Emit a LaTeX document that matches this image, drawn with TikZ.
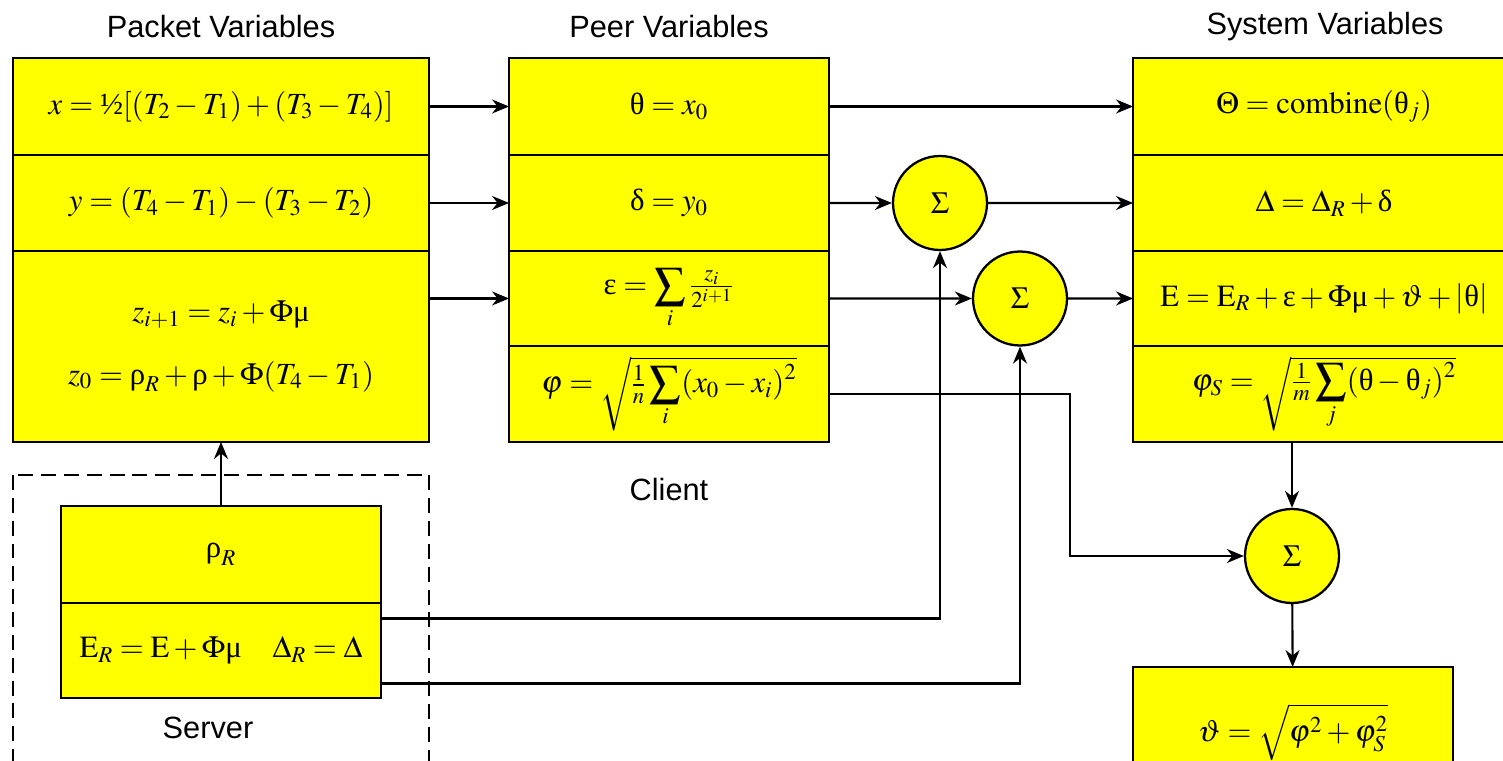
\documentclass[tikz,border=0pt]{standalone}
\usepackage{amsmath}
\usepackage{mathptmx}
\usepackage[no-math]{fontspec}
\newfontfamily\arial{Liberation Sans}
\newfontfamily\tms{Liberation Serif}
\newcommand\up[1]{\text{\tms #1}}
\usepackage{tikz}
\usetikzlibrary{arrows.meta, positioning, calc}
\definecolor{boxyellow}{RGB}{255,255,0}

\begin{document}
\begin{tikzpicture}[
  x=0.02cm, y=-0.02cm,
  font=\fontsize{17.5}{20}\selectfont,
  cell/.style = {draw, fill=boxyellow, line width=1.3pt, outer sep=0pt, inner sep=0pt, align=center},
  wide/.style = {cell, minimum width=8.32cm},
  narrow/.style = {cell, minimum width=6.4cm},
  sumnode/.style = {circle, draw, fill=boxyellow, line width=1.3pt, minimum size=1.88cm, inner sep=0pt},
  title/.style = {font=\arial\fontsize{17.5}{20}\selectfont},
  frame/.style = {line width=1.3pt, dash pattern=on 8.5pt off 4.5pt},
  link/.style = {line width=1.2pt, -{Stealth[length=3.4mm,width=2.8mm,inset=1.1mm]}}
]
\useasboundingbox (0,0) rectangle (1503,760);

\node[title] (tpk) at (221,27) {Packet Variables};
\node[title] (tpr) at (669,27) {Peer Variables};
\node[title] (tsy) at (1325,27) {System Variables};

\node[wide, minimum height=1.94cm] (pk1) at (221,106.5) {$x=\up{½}[(T_2-T_1)+(T_3-T_4)]$};
\node[wide, minimum height=1.92cm, below=0pt of pk1] (pk2) {$y=(T_4-T_1)-(T_3-T_2)$};
\node[wide, minimum height=3.82cm, below=0pt of pk2] (pk3) {$z_{i+1}=z_i+\Phi\up{μ}$\\[0.55cm]
  $z_0=\up{ρ}_R+\up{ρ}+\Phi(T_4-T_1)$};

\node[narrow, minimum height=1.94cm] (pr1) at (669,106.5) {$\up{θ}=x_0$};
\node[narrow, minimum height=1.92cm, below=0pt of pr1] (pr2) {$\up{δ}=y_0$};
\node[narrow, minimum height=1.9cm, below=0pt of pr2] (pr3) {$\up{ε}=\displaystyle\sum_i\tfrac{z_i}{2^{i+1}}$};
\node[narrow, minimum height=1.92cm, below=0pt of pr3] (pr4) {$\varphi=\sqrt{\tfrac{1}{n}\displaystyle\sum_i(x_0-x_i)^2}$};
\node[title] (client) at (669,490) {Client};

\node[cell, minimum width=7.64cm, minimum height=1.94cm] (sy1) at (1324,106.5) {$\Theta=\mathrm{combine}(\up{θ}_j)$};
\node[cell, minimum width=7.64cm, minimum height=1.92cm, below=0pt of sy1] (sy2) {$\Delta=\Delta_R+\up{δ}$};
\node[cell, minimum width=7.64cm, minimum height=1.9cm, below=0pt of sy2] (sy3) {$\mathrm{E}=\mathrm{E}_R+\up{ε}+\Phi\up{μ}+\vartheta+|\up{θ}|$};
\node[cell, minimum width=7.64cm, minimum height=1.92cm, below=0pt of sy3] (sy4) {$\varphi_S=\sqrt{\tfrac{1}{m}\displaystyle\sum_j(\up{θ}-\up{θ}_j)^2}$};

\node[sumnode] (s1) at (940,203) {$\Sigma$};
\node[sumnode] (s2) at (1020,298.5) {$\Sigma$};
\node[sumnode] (s3) at (1292,556) {$\Sigma$};
\node[narrow, minimum height=2.6cm] (vt) at (1293,732) {$\vartheta=\sqrt{\varphi^2+\varphi_S^2}$};

\draw[frame] (13,475) rectangle (429,800);
\node[narrow, minimum height=1.94cm] (sv1) at (221,554.5) {$\up{ρ}_R$};
\node[narrow, minimum height=1.9cm, below=0pt of sv1] (sv2) {$\mathrm{E}_R=\mathrm{E}+\Phi\up{μ}\quad\Delta_R=\Delta$};
\node[title] (server) at (208,728) {Server};

\draw[link] (pk1) -- (pr1);
\draw[link] (pk2) -- (pr2);
\draw[link] (pk3.east |- pr3) -- (pr3);
\draw[link] (pr1) -- (sy1);
\draw[link] (pr2) -- (s1);
\draw[link] (s1) -- (sy2);
\draw[link] (pr3) -- (s2);
\draw[link] (s2) -- (sy3);
\draw[link] (pr4.east) -- ++(241,0) |- (s3);
\draw[link] (sy4.south -| s3) -- (s3);
\draw[link] (s3) -- (vt);
\draw[link] ($(sv2.east)+(0,-32)$) -| (s1);
\draw[link] ($(sv2.east)+(0,33)$) -| (s2);
\draw[link] (sv1) -- (pk3);
\end{tikzpicture}
\end{document}
